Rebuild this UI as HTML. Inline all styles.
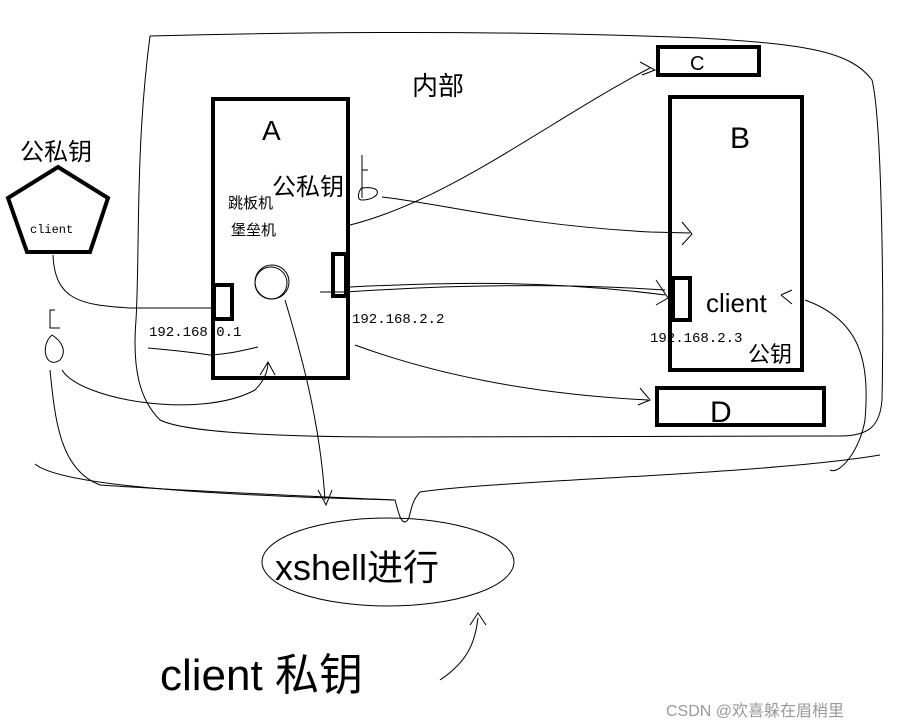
<!DOCTYPE html>
<html><head><meta charset="utf-8"><style>
html,body{margin:0;padding:0;background:#fff;}
svg{display:block;}
text{font-family:"Liberation Mono","Noto Sans CJK SC",monospace;fill:#000;}
.h{font-family:"Liberation Sans","Noto Sans CJK SC",sans-serif;}
</style></head><body>
<svg width="917" height="728" viewBox="0 0 917 728" xmlns="http://www.w3.org/2000/svg">
<g fill="none" stroke="#000" stroke-width="1">
<path d="M150,36 C300,32 500,30 700,38 C800,44 850,50 872,80 C882,120 884,300 882,400 C880,425 870,436 840,436 L400,437 C250,437 180,430 160,420 C140,400 132,370 136,320 C140,250 135,150 150,36"/>
<path d="M35,464 C60,485 200,495 395,500 C398,510 400,522 405,522 C412,520 408,505 420,492 C500,480 760,475 880,455"/>
<path d="M53,255 C55,300 80,305 130,308 L213,308"/>
<path d="M55,310 L50,310 L50,328 L60,328 M52,335 C40,345 45,370 60,360 C68,350 60,340 52,335 M62,370 C80,400 200,420 255,390 C265,380 268,370 268,362 M260,375 L268,362 L275,375"/>
<path d="M50,370 C55,420 60,470 100,485 C200,492 330,497 395,500"/>
<path d="M148,348 C170,350 190,352 210,355 C230,354 245,350 258,347"/>
<circle cx="272" cy="282" r="17"/>
<circle cx="271" cy="283" r="16"/>
<path d="M285,300 C300,350 320,420 325,500 M318,490 L326,505 L332,490"/>
<path d="M362,155 L362,198 M362,170 L368,170 M362,188 C385,185 380,200 362,200 C355,200 360,188 362,188 M382,197 C450,205 520,225 650,232 L690,233 M682,222 L692,234 L682,245"/>
<path d="M350,225 C450,200 550,120 650,68 M640,62 L655,70 L642,75"/>
<path d="M320,292 L346,292 C450,285 560,283 665,290 M656,280 L668,298 L656,305"/>
<path d="M350,287 C450,282 550,280 665,295"/>
<path d="M355,345 C450,380 550,395 648,400 M640,388 L650,400 L638,405"/>
<path d="M805,300 C860,320 870,360 865,420 C860,450 840,475 830,470 M781,295 L792,290 M781,295 L792,304"/>
<ellipse cx="388" cy="562" rx="126" ry="44"/>
<path d="M440,680 C470,660 475,640 478,618 M470,625 L478,613 L486,625"/>
</g>
<g fill="none" stroke="#000" stroke-width="4">
<rect x="213" y="99" width="135" height="279"/>
<rect x="658" y="47" width="101" height="28"/>
<rect x="670" y="97" width="132" height="273"/>
<rect x="657" y="388" width="167" height="37"/>
<polygon points="58,167 108,198 90,252 27,252 8,198"/>
<rect x="214" y="285" width="18" height="34"/>
<rect x="333" y="254" width="13" height="42"/>
<rect x="673" y="278" width="17" height="42"/>
</g>
<text x="30" y="233" font-size="12">client</text>
<text x="149" y="336" font-size="14">192.168.0.1</text>
<text x="352" y="323" font-size="14">192.168.2.2</text>
<text x="650" y="342" font-size="14">192.168.2.3</text>
<text class="h" x="228" y="208" font-size="15">跳板机</text>
<text class="h" x="231" y="235" font-size="15">堡垒机</text>
<text class="h" x="262" y="140" font-size="28">A</text>
<text class="h" x="730" y="148" font-size="30">B</text>
<text class="h" x="690" y="70" font-size="20">C</text>
<text class="h" x="710" y="422" font-size="30">D</text>
<text class="h" x="272" y="195" font-size="24">公私钥</text>
<text class="h" x="20" y="160" font-size="24">公私钥</text>
<text class="h" x="412" y="95" font-size="26">内部</text>
<text class="h" x="706" y="312" font-size="26">client</text>
<text class="h" x="748" y="362" font-size="22">公钥</text>
<text class="h" x="275" y="580" font-size="36">xshell进行</text>
<text class="h" x="160" y="690" font-size="44">client 私钥</text>
<text class="h" x="666" y="716" font-size="16" style="fill:#999">CSDN @欢喜躲在眉梢里</text>
</svg>
</body></html>
